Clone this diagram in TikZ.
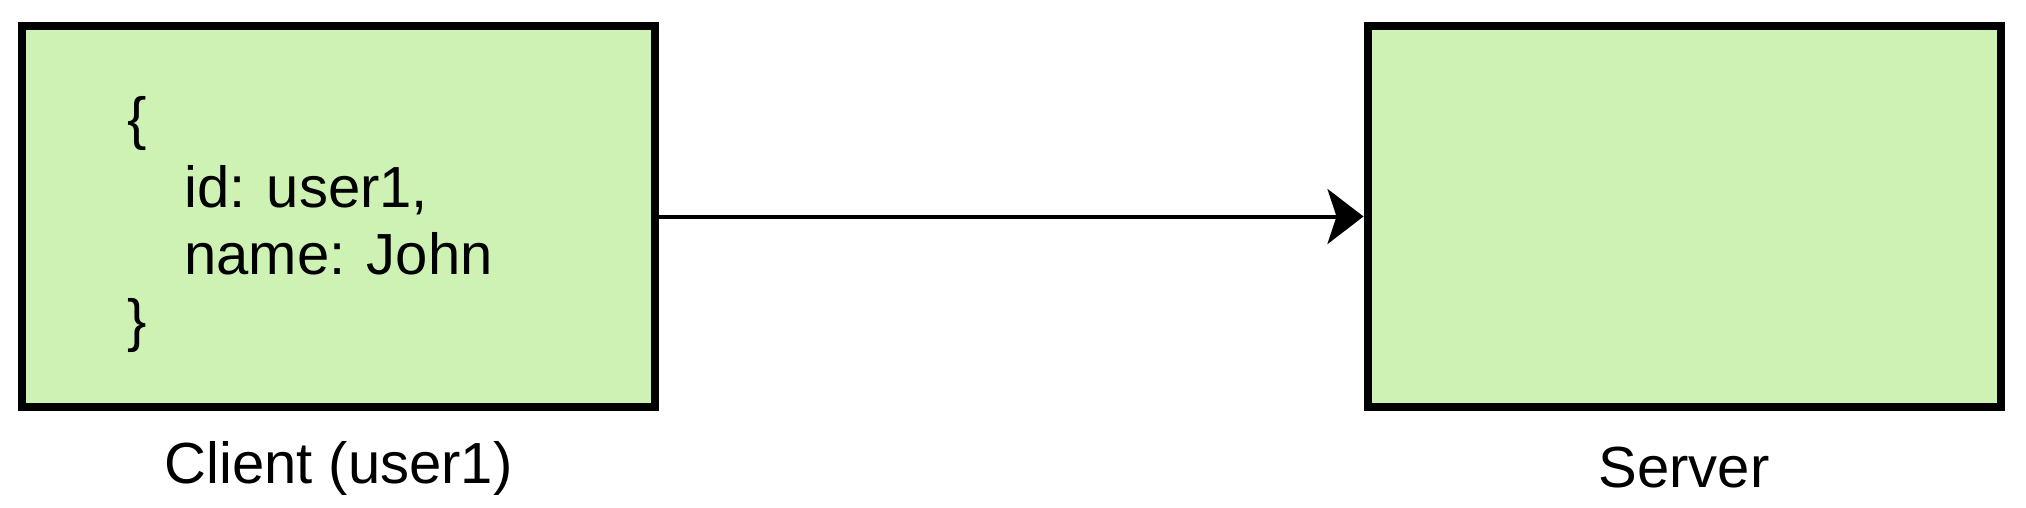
\documentclass[tikz,border=0pt]{standalone}
\usepackage{fontspec}
\setmainfont{Liberation Sans}
\usetikzlibrary{arrows.meta}
\definecolor{boxgreen}{HTML}{CDF2B3}
\begin{document}
\begin{tikzpicture}[x=1pt,y=-1pt,
  box/.style={draw=black, fill=boxgreen, line width=8pt, minimum width=633pt, minimum height=381pt, inner sep=0pt},
  txt/.style={font=\fontsize{58}{67}\selectfont, inner sep=0pt, anchor=base west},
  lbl/.style={font=\fontsize{58}{67}\selectfont, inner sep=0pt},
  conn/.style={line width=4pt, -{Stealth[length=36pt, width=55pt, inset=9pt]}}
]
\useasboundingbox (0,0) rectangle (2026,508);
\node[box] (client) at (338.5,216.5) {};
\node[box] (server) at (1684,216.5) {};
\node[txt] (bro) at (127,139) {\{};
\node[txt] (idl) at (184,207) {id: user1,};
\node[txt] (namel) at (184,274) {name: John};
\node[txt] (brc) at (127,340) {\}};
\node[lbl] (clientlbl) at (338.5,468) {Client (user1)};
\node[lbl] (serverlbl) at (1684,468) {Server};
\draw[conn] (client.east) -- (server.west);
\end{tikzpicture}
\end{document}
